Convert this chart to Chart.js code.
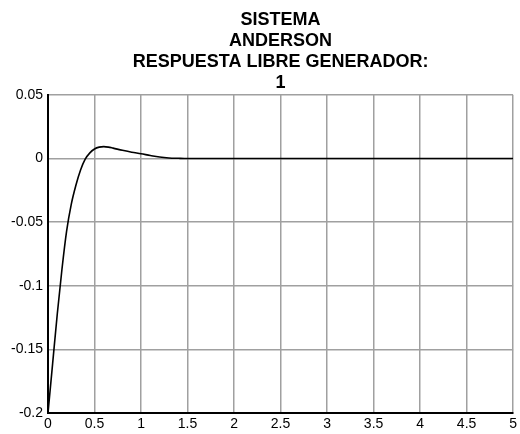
<!DOCTYPE html>
<html>
<head>
<meta charset="utf-8">
<script src="https://cdn.jsdelivr.net/npm/chart.js@4/dist/chart.umd.min.js"></script>
<style>
  html, body { margin: 0; padding: 0; background: #fff; }
  #wrap { width: 520px; height: 434px; }
</style>
</head>
<body>
<div id="wrap"><canvas id="respChart" width="520" height="434"></canvas></div>
<script>
// Free response of generator 1
var timeValues = [0, 0.05, 0.1, 0.15, 0.2, 0.25, 0.3, 0.35, 0.4, 0.45, 0.5, 0.55, 0.6, 0.65, 0.7,
                  0.8, 0.9, 1.0, 1.1, 1.2, 1.3, 1.4, 1.5, 1.7, 2, 2.5, 3, 3.5, 4, 4.5, 5];
var responseValues = [-0.2, -0.161, -0.122, -0.087, -0.057, -0.036, -0.021, -0.009, -0.0005, 0.0045, 0.0075, 0.009, 0.0094, 0.009, 0.0082,
                      0.0065, 0.005, 0.0038, 0.0024, 0.0012, 0.0005, 0.0002, 0, 0, 0, 0, 0, 0, 0, 0, 0];
var xTicks = [0, 0.5, 1, 1.5, 2, 2.5, 3, 3.5, 4, 4.5, 5];
var yTicks = [-0.2, -0.15, -0.1, -0.05, 0, 0.05];
var titleLines = ['SISTEMA', 'ANDERSON', 'RESPUESTA LIBRE GENERADOR:', '1'];

var points = [];
for (var i = 0; i < timeValues.length; i++) {
    points.push({ x: timeValues[i], y: responseValues[i] });
}

function fixTicks(list) {
    return function(scale) {
        scale.ticks = list.map(function(v) { return { value: v }; });
    };
}

var ctx = document.getElementById('respChart').getContext('2d');
var respChart = new Chart(ctx, {
    type: 'line',
    data: {
        datasets: [{
            data: points,
            borderColor: '#000',
            borderWidth: 1.6,
            pointRadius: 0,
            fill: false,
            cubicInterpolationMode: 'monotone'
        }]
    },
    options: {
        responsive: false,
        animation: false,
        layout: { padding: { left: 0, right: 3, top: 0, bottom: 0 } },
        plugins: {
            legend: { display: false },
            tooltip: { enabled: false },
            title: {
                display: true,
                fullSize: false,   // centre over the plot area, like the original
                text: titleLines,
                color: '#000',
                font: { family: 'Liberation Sans', size: 18, weight: 'bold', lineHeight: 1.18 },
                padding: { top: 9, bottom: 1 }
            }
        },
        scales: {
            x: {
                type: 'linear',
                min: 0,
                max: 5,
                afterBuildTicks: fixTicks(xTicks),
                afterFit: function(scale) { scale.height = 21; },
                border: { color: '#000', width: 2 },
                grid: { color: '#a0a0a0', lineWidth: 1.5, drawTicks: false },
                ticks: {
                    color: '#000',
                    padding: 3,
                    maxRotation: 0,
                    font: { family: 'Liberation Sans', size: 14 },
                    callback: function(v) { return String(v); }
                }
            },
            y: {
                min: -0.2,
                max: 0.05,
                afterBuildTicks: fixTicks(yTicks),
                afterFit: function(scale) { scale.width = 48; },
                border: { color: '#000', width: 2 },
                grid: { color: '#a0a0a0', lineWidth: 1.5, drawTicks: false },
                ticks: {
                    color: '#000',
                    padding: 5,
                    font: { family: 'Liberation Sans', size: 14 },
                    callback: function(v) { return String(Math.round(v * 100) / 100); }
                }
            }
        }
    }
});
</script>
</body>
</html>
